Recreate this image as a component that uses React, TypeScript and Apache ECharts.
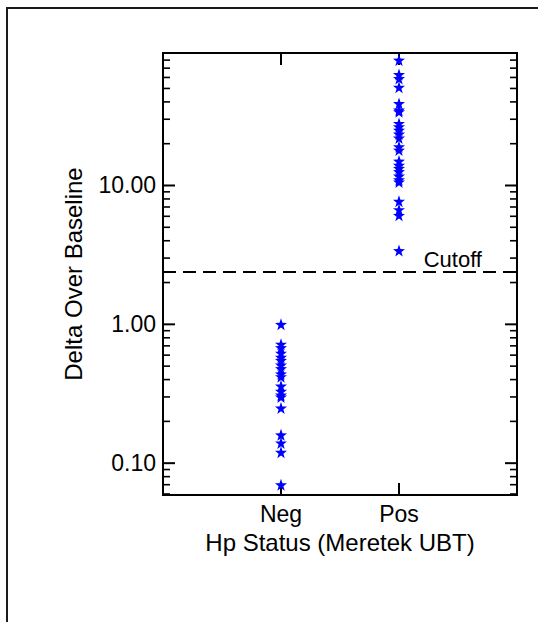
import React, { useEffect, useRef } from 'react';
import * as echarts from 'echarts';

const categories = ['Neg', 'Pos'];
const negValues = [1.0, 0.72, 0.68, 0.62, 0.58, 0.55, 0.51, 0.48, 0.44, 0.42, 0.36, 0.33, 0.31, 0.3, 0.25, 0.16, 0.14, 0.12, 0.07];
const posValues = [80, 63, 59, 51, 39, 35, 34, 28, 26.5, 25, 23.5, 22, 19, 18, 15, 14, 13.3, 12.6, 11.7, 11, 10.6, 7.7, 6.7, 6.1, 3.4];
const cutoff = 2.4;
const cutoffLabel = 'Cutoff';
const yMin = 0.059;
const yMax = 90;
const majorTicks = [0.1, 1, 10];
const minorTicks = [0.06, 0.07, 0.08, 0.09, 0.2, 0.3, 0.4, 0.5, 0.6, 0.7, 0.8, 0.9, 2, 3, 4, 5, 6, 7, 8, 9, 20, 30, 40, 50, 60, 70, 80, 90];
const xTitle = 'Hp Status (Meretek UBT)';
const yTitle = 'Delta Over Baseline';

const STAR = 'path://M0,-10 L2.35,-3.24 L9.51,-3.09 L3.8,1.24 L5.88,8.09 L0,4 L-5.88,8.09 L-3.8,1.24 L-9.51,-3.09 L-2.35,-3.24 Z';
const FONT = 'Liberation Sans, Arial, Helvetica, sans-serif';

export default function App() {
  const ref = useRef<HTMLDivElement>(null);
  useEffect(() => {
    const chart = echarts.init(ref.current as HTMLDivElement, null, { renderer: 'svg' });
    const tickData = [
      ...majorTicks.map((v) => [0, v, 1]),
      ...minorTicks.map((v) => [0, v, 0]),
    ];
    const xAxisBase = {
      type: 'value',
      min: 0,
      max: 3,
      interval: 1,
      splitLine: { show: false },
      axisLine: { show: false },
      axisTick: { show: true, inside: true, length: 12, lineStyle: { color: '#000', width: 2 } },
    };
    chart.setOption({
      animation: false,
      backgroundColor: '#fff',
      textStyle: { fontFamily: FONT },
      graphic: [
        {
          type: 'rect',
          shape: { x: 7, y: 8, width: 600, height: 700 },
          style: { fill: 'none', stroke: '#1a1a1a', lineWidth: 2 },
          silent: true,
        },
      ],
      grid: {
        left: 163,
        top: 53,
        right: 21,
        bottom: 127,
        show: true,
        borderColor: '#000',
        borderWidth: 2,
        backgroundColor: 'transparent',
      },
      xAxis: [
        {
          ...xAxisBase,
          position: 'bottom',
          name: xTitle,
          nameLocation: 'middle',
          nameGap: 35,
          nameTextStyle: { fontSize: 24, color: '#000', fontFamily: FONT },
          axisLabel: {
            show: true,
            margin: 7,
            fontSize: 23,
            color: '#000',
            fontFamily: FONT,
            formatter: (v: number) => categories[v - 1] ?? '',
          },
        },
        {
          ...xAxisBase,
          position: 'top',
          axisLabel: { show: false },
        },
      ],
      yAxis: {
        type: 'log',
        logBase: 10,
        min: yMin,
        max: yMax,
        position: 'left',
        name: yTitle,
        nameLocation: 'middle',
        nameGap: 78,
        nameTextStyle: { fontSize: 24, color: '#000', fontFamily: FONT },
        splitLine: { show: false },
        axisLine: { show: false },
        axisTick: { show: false },
        axisLabel: {
          show: true,
          margin: 7,
          fontSize: 23,
          color: '#000',
          fontFamily: FONT,
          showMinLabel: false,
          showMaxLabel: false,
          formatter: (v: number) => {
            const l = Math.log10(v);
            return Math.abs(l - Math.round(l)) < 1e-6 ? v.toFixed(2) : '';
          },
        },
      },
      series: [
        {
          type: 'custom',
          xAxisIndex: 0,
          yAxisIndex: 0,
          silent: true,
          clip: false,
          z: 1,
          data: tickData,
          renderItem: (params: any, api: any) => {
            const v = api.value(1);
            const major = api.value(2) === 1;
            const len = major ? 12 : 7;
            const pt = api.coord([0, v]);
            const cs = params.coordSys;
            const y = pt[1];
            const style = { stroke: '#000', lineWidth: major ? 2 : 1.6 };
            return {
              type: 'group',
              children: [
                { type: 'line', shape: { x1: cs.x, y1: y, x2: cs.x + len, y2: y }, style },
                { type: 'line', shape: { x1: cs.x + cs.width - len, y1: y, x2: cs.x + cs.width, y2: y }, style },
              ],
            };
          },
        },
        {
          name: categories[0],
          type: 'scatter',
          symbol: STAR,
          symbolSize: 12,
          itemStyle: { color: '#0000ff', opacity: 1 },
          z: 3,
          data: negValues.map((v) => [1, v]),
        },
        {
          name: categories[1],
          type: 'scatter',
          symbol: STAR,
          symbolSize: 12,
          itemStyle: { color: '#0000ff', opacity: 1 },
          z: 3,
          data: posValues.map((v) => [2, v]),
          markLine: {
            silent: true,
            symbol: ['none', 'none'],
            lineStyle: { color: '#000', width: 2, type: [13, 7] },
            label: {
              show: true,
              position: 'insideEndTop',
              distance: [35, 1],
              formatter: cutoffLabel,
              fontSize: 22,
              color: '#000',
              fontFamily: FONT,
            },
            data: [{ yAxis: cutoff }],
          },
        },
      ],
    });
    return () => chart.dispose();
  }, []);
  return (
    <div
      ref={ref}
      style={{ position: 'absolute', left: 0, top: 0, width: 538, height: 622, background: '#fff' }}
    />
  );
}
